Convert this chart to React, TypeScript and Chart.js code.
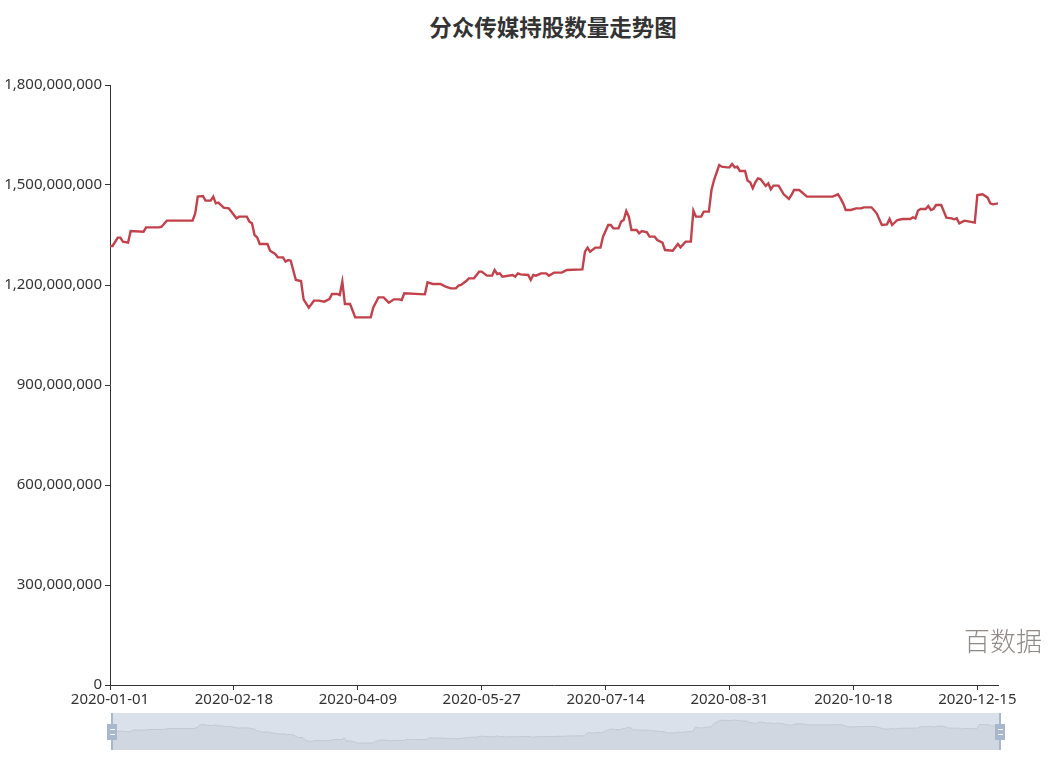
import React, { useEffect, useRef } from "react";
import { Chart, registerables } from "chart.js";

Chart.register(...registerables);

const titleText = "分众传媒持股数量走势图";
const watermarkText = "百数据";

// category positions (day index along the date axis, 0 = 2020-01-01, last = 344)
const axisMaxIndex = 344;
const tickEvery = 48;
const tickLabels = [
  "2020-01-01",
  "2020-02-18",
  "2020-04-09",
  "2020-05-27",
  "2020-07-14",
  "2020-08-31",
  "2020-10-18",
  "2020-12-15",
];

const dayIndex = [
  0, 1, 3, 4, 5, 7, 8, 13, 14, 19, 20, 22, 32, 33, 34, 36, 37, 39, 40, 41, 42, 43, 44, 46, 49, 50, 53,
  54, 55, 56, 57, 58, 61, 62, 64, 65, 67, 68, 69, 70, 72, 74, 75, 77, 79, 81, 83, 85, 86, 88, 89, 90,
  91, 93, 95, 101, 102, 104, 106, 108, 110, 112, 113, 114, 122, 123, 125, 128, 130, 132, 134, 135,
  136, 138, 139, 141, 143, 144, 146, 148, 149, 150, 151, 152, 156, 157, 158, 159, 162, 163, 164, 165,
  167, 169, 170, 172, 175, 177, 183, 184, 185, 186, 188, 190, 191, 193, 194, 195, 197, 198, 199, 200,
  201, 202, 204, 205, 206, 208, 209, 211, 212, 214, 215, 218, 220, 221, 223, 225, 226, 227, 229, 230,
  232, 233, 234, 236, 237, 239, 240, 241, 242, 243, 244, 246, 247, 248, 249, 250, 251, 252, 254, 255,
  256, 257, 259, 261, 263, 264, 265, 267, 270, 280, 282, 283, 284, 285, 287, 289, 291, 292, 295, 297,
  299, 301, 302, 303, 305, 307, 310, 311, 312, 313, 314, 316, 317, 318, 319, 320, 322, 324, 326, 327,
  328, 329, 331, 333, 335, 336, 338, 340, 341, 342, 344,
];

// holdings in millions of shares
const holdingsM = [
  1317, 1317, 1342, 1342, 1330, 1327, 1362, 1360, 1373, 1373, 1375, 1393, 1393, 1415, 1465, 1467, 1453,
  1453, 1465, 1445, 1447, 1440, 1432, 1430, 1400, 1405, 1405, 1390, 1385, 1350, 1343, 1323, 1323, 1303,
  1293, 1283, 1283, 1270, 1275, 1273, 1215, 1212, 1157, 1132, 1153, 1153, 1150, 1158, 1173, 1173, 1170,
  1210, 1143, 1143, 1103, 1103, 1133, 1163, 1163, 1147, 1157, 1157, 1155, 1175, 1172, 1208, 1203, 1203,
  1195, 1190, 1190, 1198, 1200, 1212, 1220, 1220, 1240, 1240, 1228, 1228, 1245, 1233, 1235, 1225, 1230,
  1225, 1235, 1232, 1230, 1215, 1230, 1228, 1235, 1235, 1228, 1237, 1237, 1245, 1247, 1300, 1312, 1300,
  1312, 1312, 1345, 1380, 1380, 1370, 1370, 1390, 1395, 1422, 1405, 1365, 1365, 1355, 1362, 1358, 1345,
  1345, 1335, 1327, 1305, 1303, 1323, 1313, 1330, 1330, 1423, 1405, 1405, 1420, 1420, 1485, 1515, 1560,
  1555, 1553, 1553, 1563, 1553, 1555, 1542, 1542, 1513, 1508, 1490, 1508, 1520, 1518, 1497, 1505, 1487,
  1498, 1498, 1472, 1458, 1470, 1485, 1485, 1465, 1465, 1472, 1460, 1445, 1425, 1425, 1430, 1430, 1433,
  1433, 1415, 1380, 1382, 1398, 1380, 1395, 1398, 1398, 1403, 1400, 1423, 1428, 1428, 1437, 1425, 1428,
  1440, 1440, 1402, 1400, 1397, 1400, 1385, 1393, 1390, 1387, 1470, 1472, 1462, 1445, 1442, 1445,
];

const yMax = 1800000000;
const yStep = 300000000;

const LINE_COLOR = "#c3414b";
const AXIS_COLOR = "#333";
const FONT = "'Noto Sans', 'DejaVu Sans', sans-serif";

const points = () => dayIndex.map((d, i) => ({ x: d, y: holdingsM[i] * 1e6 }));

export default function App() {
  const mainRef = useRef<HTMLCanvasElement | null>(null);
  const miniRef = useRef<HTMLCanvasElement | null>(null);

  useEffect(() => {
    const tickValues = tickLabels.map((_, i) => i * tickEvery);
    const main = new Chart(mainRef.current as HTMLCanvasElement, {
      type: "line",
      data: {
        datasets: [
          {
            data: points(),
            borderColor: LINE_COLOR,
            borderWidth: 2.4,
            pointRadius: 0,
            tension: 0,
            fill: false,
          },
        ],
      },
      options: {
        animation: false,
        responsive: false,
        maintainAspectRatio: false,
        layout: { padding: { left: 0, top: 85, right: 65, bottom: 54 } },
        plugins: { legend: { display: false }, title: { display: false }, tooltip: { enabled: false } },
        scales: {
          x: {
            type: "linear",
            min: 0,
            max: axisMaxIndex,
            afterBuildTicks: (scale: any) => {
              scale.ticks = tickValues.map((v) => ({ value: v }));
            },
            afterFit: (scale: any) => {
              scale.height = 30;
            },
            border: { display: true, color: AXIS_COLOR, width: 1 },
            grid: { display: true, drawOnChartArea: false, drawTicks: true, tickLength: 5, color: AXIS_COLOR },
            ticks: {
              autoSkip: false,
              maxRotation: 0,
              padding: 1,
              color: AXIS_COLOR,
              font: { size: 15, family: FONT },
              callback: (v: any) => {
                const i = Math.round(Number(v) / tickEvery);
                return tickLabels[i] ?? "";
              },
            },
          },
          y: {
            type: "linear",
            min: 0,
            max: yMax,
            afterFit: (scale: any) => {
              scale.width = 110;
            },
            border: { display: true, color: AXIS_COLOR, width: 1 },
            grid: { display: true, drawOnChartArea: false, drawTicks: true, tickLength: 5, color: AXIS_COLOR },
            ticks: {
              stepSize: yStep,
              padding: 3,
              color: AXIS_COLOR,
              font: { size: 15, family: FONT },
              callback: (v: any) => Number(v).toLocaleString("en-US"),
            },
          },
        },
      },
    });

    const vals = holdingsM.map((v) => v * 1e6);
    const lo = Math.min(...vals);
    const hi = Math.max(...vals);
    const off = (hi - lo) * 0.3;
    const mini = new Chart(miniRef.current as HTMLCanvasElement, {
      type: "line",
      data: {
        datasets: [
          {
            data: points(),
            borderColor: "#c2c9d3",
            borderWidth: 1,
            pointRadius: 0,
            tension: 0,
            fill: "start",
            backgroundColor: "#d1d7e0",
          },
        ],
      },
      options: {
        animation: false,
        responsive: false,
        maintainAspectRatio: false,
        layout: { padding: 0 },
        plugins: { legend: { display: false }, title: { display: false }, tooltip: { enabled: false } },
        scales: {
          x: { type: "linear", min: 0, max: axisMaxIndex, display: false },
          y: { type: "linear", min: lo - off, max: hi + off, display: false },
        },
      },
    });

    return () => {
      main.destroy();
      mini.destroy();
    };
  }, []);

  const handle = (x: number) => (
    <>
      <div
        style={{ position: "absolute", left: x - 1, top: 713, width: 2, height: 37, background: "#a7b7cc" }}
      />
      <div
        style={{
          position: "absolute",
          left: x - 5,
          top: 724,
          width: 10,
          height: 16,
          background: "#a7b7cc",
        }}
      >
        <div style={{ position: "absolute", left: 3, top: 5, width: 5, height: 1, background: "#fff" }} />
        <div style={{ position: "absolute", left: 3, top: 10, width: 5, height: 1, background: "#fff" }} />
      </div>
    </>
  );

  return (
    <div
      style={{
        position: "absolute",
        left: 0,
        top: 0,
        width: 1063,
        height: 769,
        background: "#fff",
        overflow: "hidden",
      }}
    >
      <div
        style={{
          position: "absolute",
          left: 553,
          top: 13,
          transform: "translateX(-50%)",
          whiteSpace: "nowrap",
          fontFamily: "'Noto Sans CJK SC', sans-serif",
          fontWeight: 700,
          fontSize: 22.5,
          lineHeight: "26px",
          color: "#333",
        }}
      >
        {titleText}
      </div>
      <canvas ref={mainRef} width={1063} height={769} style={{ position: "absolute", left: 0, top: 0 }} />
      <div style={{ position: "absolute", left: 112, top: 713, width: 888, height: 37, background: "#dbe1ea" }} />
      <canvas
        ref={miniRef}
        width={888}
        height={37}
        style={{ position: "absolute", left: 112, top: 713, width: 888, height: 37 }}
      />
      {handle(112)}
      {handle(1000)}
      <div
        style={{
          position: "absolute",
          left: 964,
          top: 624,
          whiteSpace: "nowrap",
          fontFamily: "'Noto Sans CJK SC', serif",
          fontWeight: 300,
          fontSize: 26,
          lineHeight: "32px",
          color: "#8f8a86",
        }}
      >
        {watermarkText}
      </div>
    </div>
  );
}
